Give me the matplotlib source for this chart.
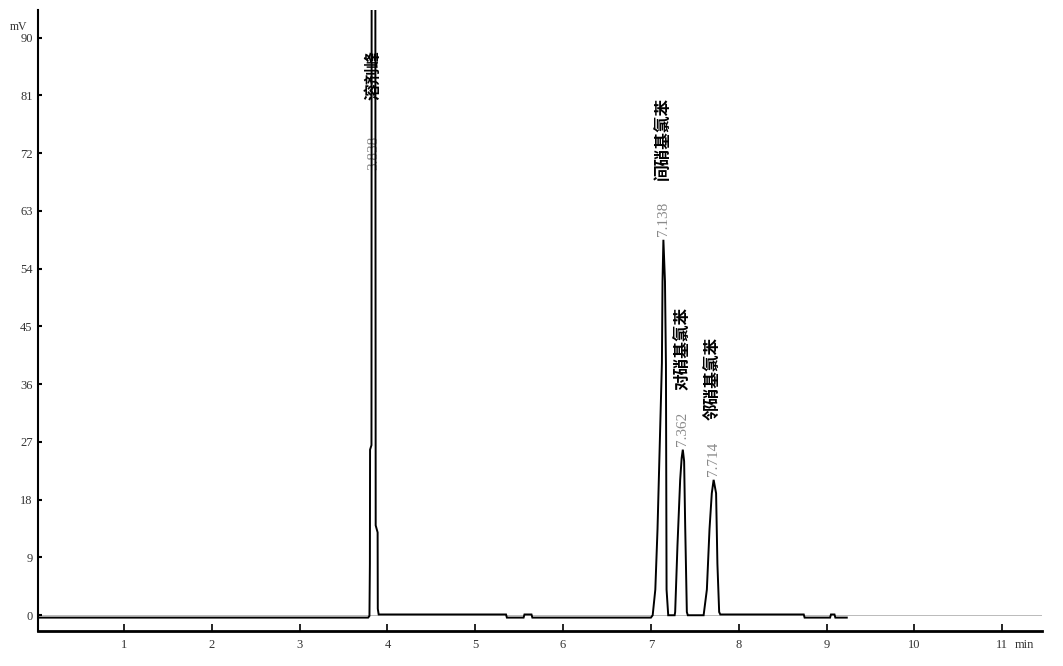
import matplotlib
matplotlib.use("Agg")
import matplotlib.pyplot as plt

# ---- data ----
trace_time = [0.02, 3.78, 3.795, 3.800, 3.802, 3.818, 3.820, 3.838, 3.862, 3.866,
              3.888, 3.890, 3.90, 5.35, 5.36, 5.55, 5.56, 5.64, 5.65, 7.00,
              7.02, 7.05, 7.075, 7.10, 7.125, 7.132, 7.142, 7.160, 7.171, 7.178,
              7.197, 7.27, 7.276, 7.302, 7.333, 7.350, 7.363, 7.378, 7.390, 7.409,
              7.42, 7.60, 7.637, 7.667, 7.693, 7.714, 7.742, 7.757, 7.777, 7.79,
              8.74, 8.75, 9.04, 9.05, 9.09, 9.10, 9.23]
trace_signal = [-0.37, -0.37, -0.1, 8, 25.8, 26.5, 100, 400, 100, 14,
                12.9, 1, 0.12, 0.12, -0.37, -0.37, 0.12, 0.12, -0.37, -0.37,
                0.0, 4, 13.4, 26.3, 39.3, 52, 58.5, 52, 39, 4,
                0.0, 0.0, 0.5, 10.8, 21.1, 24.5, 25.8, 24, 14, 0.5,
                0.0, 0.0, 4, 13.4, 19, 21.1, 19, 8, 0.5, 0.12,
                0.12, -0.37, -0.37, 0.12, 0.12, -0.37, -0.37]

peak_times = [7.138, 7.362, 7.714]
peak_heights = [58.5, 25.8, 21.1]
peak_labels = ["7.138", "7.362", "7.714"]
peak_names = ["间硝基氯苯", "对硝基氯苯", "邻硝基氯苯"]

solvent_time = 3.838
solvent_label = "3.838"
solvent_name = "溶剂峰"

x_ticks = [1, 2, 3, 4, 5, 6, 7, 8, 9, 10, 11]
y_ticks = [0, 9, 18, 27, 36, 45, 54, 63, 72, 81, 90]

# ---- figure ----
fig = plt.figure(figsize=(10.63, 6.66), dpi=100)
ax = fig.add_axes([0.036, 0.0526, 0.944, 0.9324])

ax.axhline(0, color="#b0b0b0", lw=0.6, zorder=1)
ax.plot(trace_time, trace_signal, color="black", lw=1.4, zorder=4,
        solid_joinstyle="miter")

ax.set_xlim(0.024, 11.45)
ax.set_ylim(-2.45, 94.3)

for s in ["top", "right"]:
    ax.spines[s].set_visible(False)
ax.spines["bottom"].set_linewidth(2.0)
ax.spines["left"].set_linewidth(1.5)

ax.set_xticks(x_ticks)
ax.set_yticks(y_ticks)
ax.set_xticklabels([str(v) for v in x_ticks], family="Liberation Serif",
                   fontsize=9, color="#333333")
ax.set_yticklabels([str(v) for v in y_ticks], family="Liberation Serif",
                   fontsize=9, color="#333333")
ax.tick_params(axis="x", direction="in", length=5, width=1.2, pad=6)
ax.tick_params(axis="y", direction="in", length=3, width=1.5, pad=4)

fig.text(1015 / 1063, 1 - 645 / 666, "min", family="Liberation Serif",
         fontsize=9, color="#333333", ha="left", va="center")
fig.text(10 / 1063, 1 - 27 / 666, "mV", family="Liberation Serif",
         fontsize=8.5, color="#333333", ha="left", va="center")

for t, h, lab, name in zip(peak_times, peak_heights, peak_labels, peak_names):
    ax.annotate(lab, xy=(t, h), xytext=(0, 2.5), textcoords="offset points",
                rotation=90, ha="center", va="bottom", fontsize=11,
                family="Liberation Serif", color="#8a8a8a", zorder=3)
    ax.annotate(name, xy=(t, h), xytext=(0, 43), textcoords="offset points",
                rotation=90, ha="center", va="bottom", fontsize=12,
                family=["Noto Sans CJK SC", "DejaVu Sans"], weight="bold",
                color="black", zorder=3)

ax.text(solvent_time, 69.4, solvent_label, rotation=90, ha="center",
        va="bottom", fontsize=11, family="Liberation Serif", color="#8a8a8a",
        zorder=3)
ax.text(solvent_time, 80.3, solvent_name, rotation=90, ha="center",
        va="bottom", fontsize=12, family=["Noto Sans CJK SC", "DejaVu Sans"],
        weight="bold", color="black", zorder=3)

fig.savefig("out.png", dpi=100)
